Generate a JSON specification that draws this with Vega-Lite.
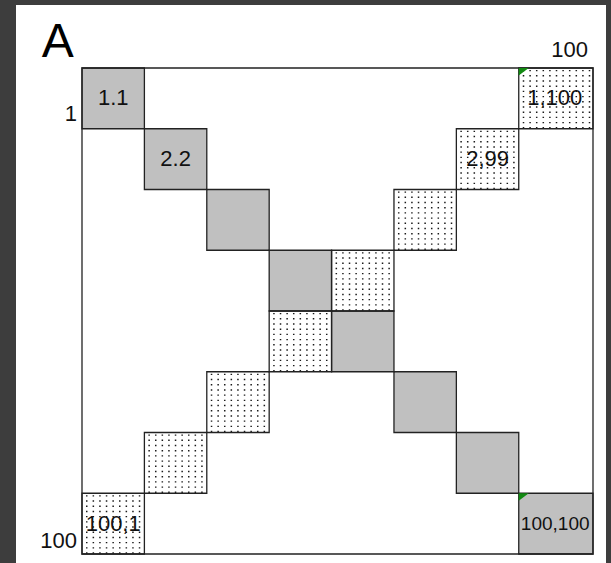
{
  "$schema": "https://vega.github.io/schema/vega-lite/v6.json",
  "width": 590,
  "height": 558,
  "autosize": {"type": "none"},
  "padding": {"left": 16, "top": 5, "right": 5, "bottom": 0},
  "background": "#3d3d3d",
  "config": {"view": {"fill": "white", "stroke": null}, "font": "Liberation Sans"},
  "datasets": {
    "cells": [
      {"r": 1, "c": 1, "kind": "diag", "label": "1.1", "c0": 0, "c1": 12.21, "r0": 0, "r1": 12.5, "cx": 6.105, "cy": 6.25},
      {"r": 2, "c": 2, "kind": "diag", "label": "2.2", "c0": 12.21, "c1": 24.42, "r0": 12.5, "r1": 25, "cx": 18.315, "cy": 18.75},
      {"r": 3, "c": 3, "kind": "diag", "label": "", "c0": 24.42, "c1": 36.63, "r0": 25, "r1": 37.5, "cx": 30.525, "cy": 31.25},
      {"r": 4, "c": 4, "kind": "diag", "label": "", "c0": 36.63, "c1": 48.84, "r0": 37.5, "r1": 50, "cx": 42.735, "cy": 43.75},
      {"r": 5, "c": 5, "kind": "diag", "label": "", "c0": 48.84, "c1": 61.05, "r0": 50, "r1": 62.5, "cx": 54.945, "cy": 56.25},
      {"r": 6, "c": 6, "kind": "diag", "label": "", "c0": 61.05, "c1": 73.26, "r0": 62.5, "r1": 75, "cx": 67.155, "cy": 68.75},
      {"r": 7, "c": 7, "kind": "diag", "label": "", "c0": 73.26, "c1": 85.47, "r0": 75, "r1": 87.5, "cx": 79.365, "cy": 81.25},
      {"r": 8, "c": 8, "kind": "diag", "label": "100,100", "c0": 85.47, "c1": 100, "r0": 87.5, "r1": 100, "cx": 92.6, "cy": 93.75},
      {"r": 1, "c": 8, "kind": "anti", "label": "1,100", "c0": 85.47, "c1": 100, "r0": 0, "r1": 12.5, "cx": 92.5, "cy": 6.25},
      {"r": 2, "c": 7, "kind": "anti", "label": "2,99", "c0": 73.26, "c1": 85.47, "r0": 12.5, "r1": 25, "cx": 79.365, "cy": 18.75},
      {"r": 3, "c": 6, "kind": "anti", "label": "", "c0": 61.05, "c1": 73.26, "r0": 25, "r1": 37.5, "cx": 67.155, "cy": 31.25},
      {"r": 4, "c": 5, "kind": "anti", "label": "", "c0": 48.84, "c1": 61.05, "r0": 37.5, "r1": 50, "cx": 54.945, "cy": 43.75},
      {"r": 5, "c": 4, "kind": "anti", "label": "", "c0": 36.63, "c1": 48.84, "r0": 50, "r1": 62.5, "cx": 42.735, "cy": 56.25},
      {"r": 6, "c": 3, "kind": "anti", "label": "", "c0": 24.42, "c1": 36.63, "r0": 62.5, "r1": 75, "cx": 30.525, "cy": 68.75},
      {"r": 7, "c": 2, "kind": "anti", "label": "", "c0": 12.21, "c1": 24.42, "r0": 75, "r1": 87.5, "cx": 18.315, "cy": 81.25},
      {"r": 8, "c": 1, "kind": "anti", "label": "100,1", "c0": 0, "c1": 12.21, "r0": 87.5, "r1": 100, "cx": 6.105, "cy": 93.75}
    ],
    "frame": [{"c0": 0, "c1": 100, "r0": 0, "r1": 100}],
    "ticks": [
      {"text": "1", "x": -1, "y": 10.84},
      {"text": "100", "x": -1, "y": 98.77},
      {"text": "100", "x": 99, "y": -2.26}
    ],
    "panel": [{"text": "A", "x": -7.89, "y": -2.33}]
  },
  "layer": [
    {
      "data": {"name": "cells"},
      "transform": [{"filter": "datum.kind == 'anti'"}],
      "mark": {"type": "rule", "color": "#1a1a1a", "strokeWidth": 60.75, "strokeDash": [1.5, 5.1], "strokeDashOffset": 2.6, "strokeCap": "butt"},
      "encoding": {
        "x": {"field": "c0", "type": "quantitative", "scale": {"domain": [-12.916, 102.544], "nice": false, "zero": false}, "axis": null},
        "x2": {"field": "c1"},
        "y": {"field": "cy", "type": "quantitative", "scale": {"domain": [-12.963, 101.852], "nice": false, "zero": false, "reverse": true}, "axis": null}
      }
    },
    {
      "data": {"name": "cells"},
      "transform": [{"filter": "datum.kind == 'anti'"}],
      "mark": {"type": "rule", "color": "white", "strokeWidth": 74.5, "strokeDash": [3.8, 1.4], "strokeDashOffset": 1.9, "strokeCap": "butt"},
      "encoding": {
        "x": {"field": "cx", "type": "quantitative", "scale": {"domain": [-12.916, 102.544], "nice": false, "zero": false}, "axis": null},
        "y": {"field": "r0", "type": "quantitative", "scale": {"domain": [-12.963, 101.852], "nice": false, "zero": false, "reverse": true}, "axis": null},
        "y2": {"field": "r1"}
      }
    },
    {
      "data": {"name": "cells"},
      "transform": [{"filter": "datum.kind == 'diag'"}],
      "mark": {"type": "rect", "fill": "#c0c0c0", "strokeWidth": 0},
      "encoding": {
        "x": {"field": "c0", "type": "quantitative", "scale": {"domain": [-12.916, 102.544], "nice": false, "zero": false}, "axis": null},
        "x2": {"field": "c1"},
        "y": {"field": "r0", "type": "quantitative", "scale": {"domain": [-12.963, 101.852], "nice": false, "zero": false, "reverse": true}, "axis": null},
        "y2": {"field": "r1"}
      }
    },
    {
      "data": {"name": "cells"},
      "mark": {"type": "rect", "filled": false, "stroke": "#222222", "strokeWidth": 1.3},
      "encoding": {
        "x": {"field": "c0", "type": "quantitative", "scale": {"domain": [-12.916, 102.544], "nice": false, "zero": false}, "axis": null},
        "x2": {"field": "c1"},
        "y": {"field": "r0", "type": "quantitative", "scale": {"domain": [-12.963, 101.852], "nice": false, "zero": false, "reverse": true}, "axis": null},
        "y2": {"field": "r1"}
      }
    },
    {
      "data": {"name": "frame"},
      "mark": {"type": "rect", "filled": false, "stroke": "#222222", "strokeWidth": 1.3},
      "encoding": {
        "x": {"field": "c0", "type": "quantitative", "scale": {"domain": [-12.916, 102.544], "nice": false, "zero": false}, "axis": null},
        "x2": {"field": "c1"},
        "y": {"field": "r0", "type": "quantitative", "scale": {"domain": [-12.963, 101.852], "nice": false, "zero": false, "reverse": true}, "axis": null},
        "y2": {"field": "r1"}
      }
    },
    {
      "data": {"name": "cells"},
      "transform": [{"filter": "datum.c == 8"}],
      "mark": {"type": "point", "shape": "M0,0L1,0L0,0.75Z", "size": 400, "filled": true, "fill": "#128a12", "opacity": 1, "strokeWidth": 0},
      "encoding": {
        "x": {"field": "c0", "type": "quantitative", "scale": {"domain": [-12.916, 102.544], "nice": false, "zero": false}, "axis": null},
        "y": {"field": "r0", "type": "quantitative", "scale": {"domain": [-12.963, 101.852], "nice": false, "zero": false, "reverse": true}, "axis": null}
      }
    },
    {
      "data": {"name": "cells"},
      "transform": [{"filter": "datum.label != ''"}],
      "mark": {"type": "text", "align": "center", "baseline": "middle", "color": "#111111"},
      "encoding": {
        "x": {"field": "cx", "type": "quantitative", "scale": {"domain": [-12.916, 102.544], "nice": false, "zero": false}, "axis": null},
        "y": {"field": "cy", "type": "quantitative", "scale": {"domain": [-12.963, 101.852], "nice": false, "zero": false, "reverse": true}, "axis": null},
        "text": {"field": "label"},
        "size": {"condition": {"test": "datum.label == '100,100'", "value": 19}, "value": 22}
      }
    },
    {
      "data": {"name": "ticks"},
      "mark": {"type": "text", "align": "right", "baseline": "alphabetic", "fontSize": 22, "color": "#111111"},
      "encoding": {
        "x": {"field": "x", "type": "quantitative", "scale": {"domain": [-12.916, 102.544], "nice": false, "zero": false}, "axis": null},
        "y": {"field": "y", "type": "quantitative", "scale": {"domain": [-12.963, 101.852], "nice": false, "zero": false, "reverse": true}, "axis": null},
        "text": {"field": "text"}
      }
    },
    {
      "data": {"name": "panel"},
      "mark": {"type": "text", "align": "left", "baseline": "alphabetic", "fontSize": 48, "color": "#000000"},
      "encoding": {
        "x": {"field": "x", "type": "quantitative", "scale": {"domain": [-12.916, 102.544], "nice": false, "zero": false}, "axis": null},
        "y": {"field": "y", "type": "quantitative", "scale": {"domain": [-12.963, 101.852], "nice": false, "zero": false, "reverse": true}, "axis": null},
        "text": {"field": "text"}
      }
    }
  ]
}
